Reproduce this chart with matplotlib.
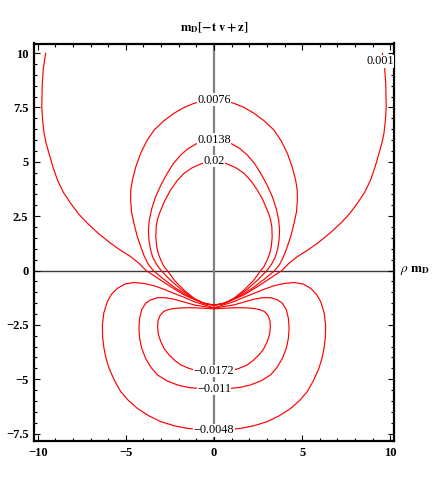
import numpy as np
import matplotlib
matplotlib.use('Agg')
import matplotlib.pyplot as plt
from matplotlib.ticker import FixedLocator, FixedFormatter, MultipleLocator

# contour values (right half rho >= 0, the plot is mirror symmetric)
# positive contours, traced from the top down to the point near z = -1.6
c0014_x = [9.55, 9.68, 9.74, 9.77, 9.72, 9.64, 9.52, 9.36, 9.15, 8.88, 8.55, 8.13, 7.68, 7.18,
           6.55, 5.86, 5.3, 4.73, 4.25, 3.85, 3.2, 2.6, 2.15, 1.7, 1.2, 0.75, 0.35, 0.0]
c0014_z = [9.99, 9.3, 8.61, 7.53, 6.9, 6.31, 5.85, 5.39, 4.8, 4.16, 3.6, 3.09, 2.6, 2.17,
           1.7, 1.25, 0.93, 0.64, 0.33, 0.0, -0.35, -0.67, -0.9, -1.12, -1.3, -1.46, -1.54, -1.58]

c0076_x = [0.0, 0.6, 1.13, 1.7, 2.27, 2.85, 3.40, 3.82, 4.16, 4.43, 4.63, 4.72, 4.73, 4.68, 4.54,
           4.37, 4.16, 3.95, 3.72, 3.45, 3.15, 2.85, 2.2, 1.4, 0.6, 0.0]
c0076_z = [7.84, 7.8, 7.69, 7.5, 7.23, 6.88, 6.46, 5.95, 5.39, 4.78, 4.16, 3.7, 3.24, 2.7, 2.17,
           1.62, 1.10, 0.65, 0.28, 0.0, -0.2, -0.4, -0.8, -1.2, -1.5, -1.6]

c0138_x = [0.0, 0.5, 0.95, 1.45, 1.89, 2.3, 2.65, 3.0, 3.31, 3.53, 3.67, 3.72, 3.69, 3.61, 3.48,
           3.25, 3.0, 2.5, 1.9, 1.2, 0.55, 0.0]
c0138_z = [6.0, 5.95, 5.85, 5.62, 5.31, 4.92, 4.47, 3.95, 3.39, 2.85, 2.32, 1.85, 1.40, 1.0, 0.62,
           0.27, 0.0, -0.42, -0.85, -1.27, -1.52, -1.6]

c02_x = [0.0, 0.4, 0.76, 1.25, 1.70, 2.1, 2.46, 2.77, 3.02, 3.2, 3.28, 3.3, 3.25, 3.15, 3.0,
         2.85, 2.65, 2.25, 1.7, 1.1, 0.5, 0.0]
c02_z = [5.0, 4.97, 4.90, 4.72, 4.47, 4.12, 3.70, 3.25, 2.78, 2.38, 2.01, 1.55, 1.10, 0.75, 0.45,
         0.2, 0.0, -0.45, -0.9, -1.3, -1.53, -1.6]

# negative contours, traced from the point near z = -1.7 round to the bottom on the axis
cm0048_x = [0.0, 0.55, 1.13, 1.7, 2.27, 2.85, 3.40, 3.95, 4.54, 5.05, 5.48, 5.82, 6.05, 6.25, 6.33,
            6.32, 6.24, 6.12, 5.95, 5.65, 5.29, 4.85, 4.35, 3.7, 3.02, 2.25, 1.51, 0.75, 0.0]
cm0048_z = [-1.72, -1.58, -1.43, -1.23, -1.05, -0.86, -0.70, -0.6, -0.55, -0.62, -0.82, -1.1, -1.43,
            -1.95, -2.51, -3.05, -3.58, -4.05, -4.50, -5.05, -5.57, -5.98, -6.34, -6.68, -6.95,
            -7.14, -7.26, -7.31, -7.33]

cm011_x = [0.0, 0.55, 1.13, 1.7, 2.27, 2.75, 3.21, 3.6, 3.88, 4.1, 4.22, 4.26, 4.22, 4.1, 3.88,
           3.58, 3.21, 2.68, 2.08, 1.5, 0.95, 0.45, 0.0]
cm011_z = [-1.72, -1.66, -1.58, -1.45, -1.32, -1.25, -1.25, -1.35, -1.51, -1.8, -2.20, -2.65, -3.11,
           -3.58, -4.04, -4.45, -4.80, -5.07, -5.26, -5.37, -5.42, -5.44, -5.44]

cm0172_x = [0.0, 0.5, 0.95, 1.45, 1.9, 2.3, 2.6, 2.85, 3.05, 3.17, 3.2, 3.15, 3.02, 2.82, 2.55,
            2.23, 1.89, 1.42, 0.95, 0.45, 0.0]
cm0172_z = [-1.76, -1.74, -1.72, -1.71, -1.72, -1.75, -1.8, -1.88, -2.05, -2.3, -2.58, -2.95, -3.27,
            -3.6, -3.88, -4.13, -4.34, -4.5, -4.62, -4.66, -4.67]

contour_x = [c0014_x, c0076_x, c0138_x, c02_x, cm0048_x, cm011_x, cm0172_x]
contour_z = [c0014_z, c0076_z, c0138_z, c02_z, cm0048_z, cm011_z, cm0172_z]

# contour labels as printed (0.0014 is cut off by the frame in the original)
label_text = ['0.0014', '0.0076', '0.0138', '0.02', '\u22120.0048', '\u22120.011', '\u22120.0172']
label_x = [9.62, 0, 0, 0, 0, 0, 0]
label_z = [9.62, 7.86, 6.02, 5.04, -7.35, -5.44, -4.62]

xtick_vals = [-10, -5, 0, 5, 10]
xtick_text = ['\u221210', '\u22125', '0', '5', '10']
ytick_vals = [-7.5, -5, -2.5, 0, 2.5, 5, 7.5, 10]
ytick_text = ['\u22127.5', '\u22125', '\u22122.5', '0', '2.5', '5', '7.5', '10']

plt.rcParams['mathtext.fontset'] = 'stix'

fig = plt.figure(figsize=(4.36, 4.80), dpi=100)
ax = fig.add_axes([34 / 436, 1 - 441 / 480, 360 / 436, 397.5 / 480])

# axes lines through the origin
ax.axhline(0, color='#3a3a3a', lw=1.0, zorder=1)
ax.axvline(0, color='#808080', lw=1.6, zorder=1)

# the contour lines, each drawn as right half and its mirror
for cx, cz in zip(contour_x, contour_z):
    cx = np.array(cx)
    cz = np.array(cz)
    ax.plot(cx, cz, color='red', lw=0.85, zorder=2)
    ax.plot(-cx, cz, color='red', lw=0.85, zorder=2)

for t, lx, lz in zip(label_text, label_x, label_z):
    ax.text(lx, lz, t, ha='center', va='center', fontsize=8.8,
            family='Liberation Serif', zorder=3, clip_on=True,
            bbox=dict(facecolor='white', edgecolor='none', pad=0.3))

ax.set_xlim(-10.21, 10.21)
ax.set_ylim(-7.84, 10.44)

ax.xaxis.set_major_locator(FixedLocator(xtick_vals))
ax.xaxis.set_major_formatter(FixedFormatter(xtick_text))
ax.yaxis.set_major_locator(FixedLocator(ytick_vals))
ax.yaxis.set_major_formatter(FixedFormatter(ytick_text))
ax.xaxis.set_minor_locator(MultipleLocator(1))
ax.yaxis.set_minor_locator(MultipleLocator(0.5))
ax.tick_params(which='both', direction='in', top=True, right=True, width=0.8)
ax.tick_params(which='major', length=4.5, pad=4)
ax.tick_params(which='minor', length=2.2)
for lab in ax.get_xticklabels() + ax.get_yticklabels():
    lab.set_family('Liberation Serif')
    lab.set_fontweight('bold')
    lab.set_fontsize(9)

for s in ax.spines.values():
    s.set_linewidth(1.6)

# axis labels in Mathematica position: on top and at the right end of the rho axis
fig.text(214 / 436, 1 - 28 / 480, r'$\mathbf{m_D[-t\ v+z]}$', ha='center', va='center', fontsize=9)
ax.text(10.55, 0, r'$\rho\ \mathbf{m_D}$', ha='left', va='center', fontsize=9.5)

plt.savefig('out.png', dpi=100)
